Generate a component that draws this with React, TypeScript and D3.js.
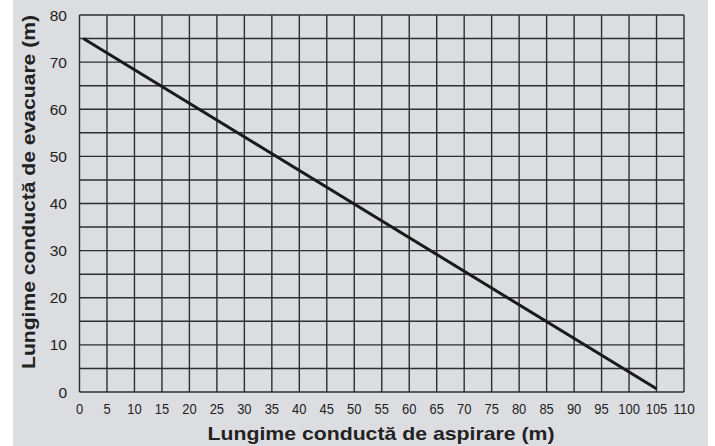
import React from "react";
import * as d3 from "d3";

const xTicks = [0, 5, 10, 15, 20, 25, 30, 35, 40, 45, 50, 55, 60, 65, 70, 75, 80, 85, 90, 95, 100, 105, 110];
const yGrid = [0, 5, 10, 15, 20, 25, 30, 35, 40, 45, 50, 55, 60, 65, 70, 75, 80];
const yLabels = [0, 10, 20, 30, 40, 50, 60, 70, 80];
const lineX = [0.7, 105];
const lineY = [75, 0.7];
const xTitle = "Lungime conductă de aspirare (m)";
const yTitle = "Lungime conductă de evacuare (m)";

export default function App() {
  const W = 715, H = 446;
  const left = 79.5, right = 684, top = 15, bottom = 392;
  const x = d3.scaleLinear().domain([0, 110]).range([left, right]);
  const y = d3.scaleLinear().domain([0, 80]).range([bottom, top]);
  const pts: [number, number][] = lineX.map((v, i) => [v, lineY[i]]);
  const line = d3.line<[number, number]>().x(d => x(d[0])).y(d => y(d[1]));
  const font = "'Liberation Sans', Arial, Helvetica, sans-serif";
  return (
    <svg width={W} height={H} style={{ position: "absolute", left: 0, top: 0, display: "block" }}>
      <rect x={0} y={0} width={W} height={H} fill="#ffffff" />
      <rect x={13} y={0} width={695} height={446} fill="#dcdde0" />
      {xTicks.map(t => (
        <line key={"vx" + t} x1={x(t)} x2={x(t)} y1={y(0)} y2={y(80)} stroke="#2e2e2e" strokeWidth={1.4} />
      ))}
      {yGrid.map(t => (
        <line key={"hy" + t} x1={x(0)} x2={x(110)} y1={y(t)} y2={y(t)} stroke="#2e2e2e" strokeWidth={1.4} />
      ))}
      <path d={line(pts) || ""} fill="none" stroke="#1a1a1a" strokeWidth={3} />
      {xTicks.map(t => (
        <text key={"xl" + t} x={x(t)} y={414} textAnchor="middle" fontFamily={font} fontSize={15}
          textLength={String(t).length * 7.2} lengthAdjust="spacingAndGlyphs" fill="#222">{t}</text>
      ))}
      {yLabels.map(t => (
        <text key={"yl" + t} x={67} y={y(t) + 5.5} textAnchor="end" fontFamily={font} fontSize={15.5} fill="#222">{t}</text>
      ))}
      <text x={381} y={440} textAnchor="middle" fontFamily={font} fontSize={19} fontWeight="bold"
        textLength={347} lengthAdjust="spacingAndGlyphs" fill="#222">{xTitle}</text>
      <text transform={`translate(35,192) rotate(-90)`} textAnchor="middle" fontFamily={font} fontSize={19} fontWeight="bold"
        textLength={354} lengthAdjust="spacingAndGlyphs" fill="#222">{yTitle}</text>
    </svg>
  );
}
